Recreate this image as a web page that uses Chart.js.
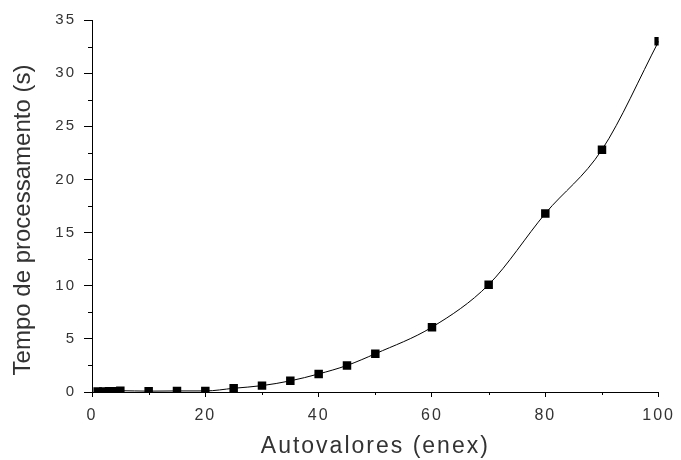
<!DOCTYPE html>
<html lang="en">
<head>
    <meta charset="UTF-8">
    <title>Tempo de processamento x Autovalores</title>
    <script src="https://cdn.jsdelivr.net/npm/chart.js"></script>
    <style>
        html, body {
            margin: 0;
            padding: 0;
            background: #fff;
        }
        #wrap {
            width: 681px;
            height: 460px;
        }
    </style>
</head>
<body>
    <div id="wrap"><canvas id="chart" width="681" height="460"></canvas></div>

    <script>
        // data
        const autovalores = [1, 2, 3, 4, 5, 10, 15, 20, 25, 30, 35, 40, 45, 50, 60, 70, 80, 90, 100];
        const tempo = [0.05, 0.05, 0.06, 0.07, 0.12, 0.08, 0.1, 0.1, 0.35, 0.6, 1.05, 1.7, 2.5, 3.6, 6.1, 10.1, 16.8, 22.8, 33.0];

        const xMinorTicks = [10, 30, 50, 70, 90];
        const yMinorTicks = [2.5, 7.5, 12.5, 17.5, 22.5, 27.5, 32.5];

        const txtColor = '#333';
        const fontFamily = 'Liberation Sans';

        // the old plot has wide, spaced-out lettering
        function spaced(scale, method, px) {
            const orig = scale[method];
            scale[method] = function (...args) {
                const c = this.ctx;
                const prev = c.letterSpacing;
                c.letterSpacing = px;
                orig.apply(this, args);
                c.letterSpacing = prev;
            };
        }

        const axisTweaks = {
            id: 'axisTweaks',
            beforeDraw(chart) {
                const xs = chart.scales.x, ys = chart.scales.y;
                if (xs._patched) return;
                spaced(xs, 'drawLabels', '2px');
                spaced(xs, 'drawTitle', '2px');
                spaced(ys, 'drawLabels', '2px');
                // y title sits a bit below the middle of the axis in the original
                const yTitle = ys.drawTitle;
                ys.drawTitle = function (...args) {
                    this.ctx.save();
                    this.ctx.translate(0, 14);
                    yTitle.apply(this, args);
                    this.ctx.restore();
                };
                xs._patched = true;
            },
            // short minor ticks
            afterDraw(chart) {
                const c = chart.ctx;
                const xs = chart.scales.x, ys = chart.scales.y;
                c.save();
                c.strokeStyle = '#000';
                c.lineWidth = 1;
                c.beginPath();
                xMinorTicks.forEach(v => {
                    const px = Math.round(xs.getPixelForValue(v)) + 0.5;
                    c.moveTo(px, xs.top);
                    c.lineTo(px, xs.top + 3);
                });
                yMinorTicks.forEach(v => {
                    const py = Math.round(ys.getPixelForValue(v)) + 0.5;
                    c.moveTo(ys.right, py);
                    c.lineTo(ys.right - 4, py);
                });
                c.stroke();
                c.restore();
            }
        };

        const ctx = document.getElementById('chart').getContext('2d');
        new Chart(ctx, {
            type: 'scatter',
            data: {
                datasets: [{
                    data: autovalores.map((x, i) => ({ x: x, y: tempo[i] })),
                    showLine: true,
                    cubicInterpolationMode: 'monotone',
                    borderColor: '#000',
                    borderWidth: 1,
                    backgroundColor: '#000',
                    pointStyle: 'rect',
                    pointRadius: 6,
                    pointBorderWidth: 0
                }]
            },
            options: {
                responsive: false,
                animation: false,
                layout: { padding: { left: 0, right: 17, top: 20, bottom: 0 } },
                plugins: {
                    legend: { display: false },
                    tooltip: { enabled: false }
                },
                scales: {
                    x: {
                        type: 'linear',
                        min: 0,
                        max: 100,
                        afterFit: s => { s.height = 68; },
                        border: { display: true, color: '#000', width: 1 },
                        grid: { drawOnChartArea: false, drawTicks: true, tickLength: 5, color: '#000' },
                        ticks: { stepSize: 20, color: txtColor, font: { family: fontFamily, size: 16 }, padding: 9, maxRotation: 0 },
                        title: { display: true, text: 'Autovalores (enex)', color: txtColor, font: { family: fontFamily, size: 23 }, padding: { top: 0, bottom: 0 } }
                    },
                    y: {
                        min: 0,
                        max: 35,
                        afterFit: s => { s.width = 92; },
                        border: { display: true, color: '#000', width: 1 },
                        grid: { drawOnChartArea: false, drawTicks: true, tickLength: 8, color: '#000' },
                        ticks: { stepSize: 5, color: txtColor, font: { family: fontFamily, size: 15 }, padding: 8 },
                        title: { display: true, text: 'Tempo de processamento (s)', color: txtColor, font: { family: fontFamily, size: 24 }, padding: { top: 9, bottom: 9 } }
                    }
                }
            },
            plugins: [axisTweaks]
        });
    </script>
</body>
</html>
